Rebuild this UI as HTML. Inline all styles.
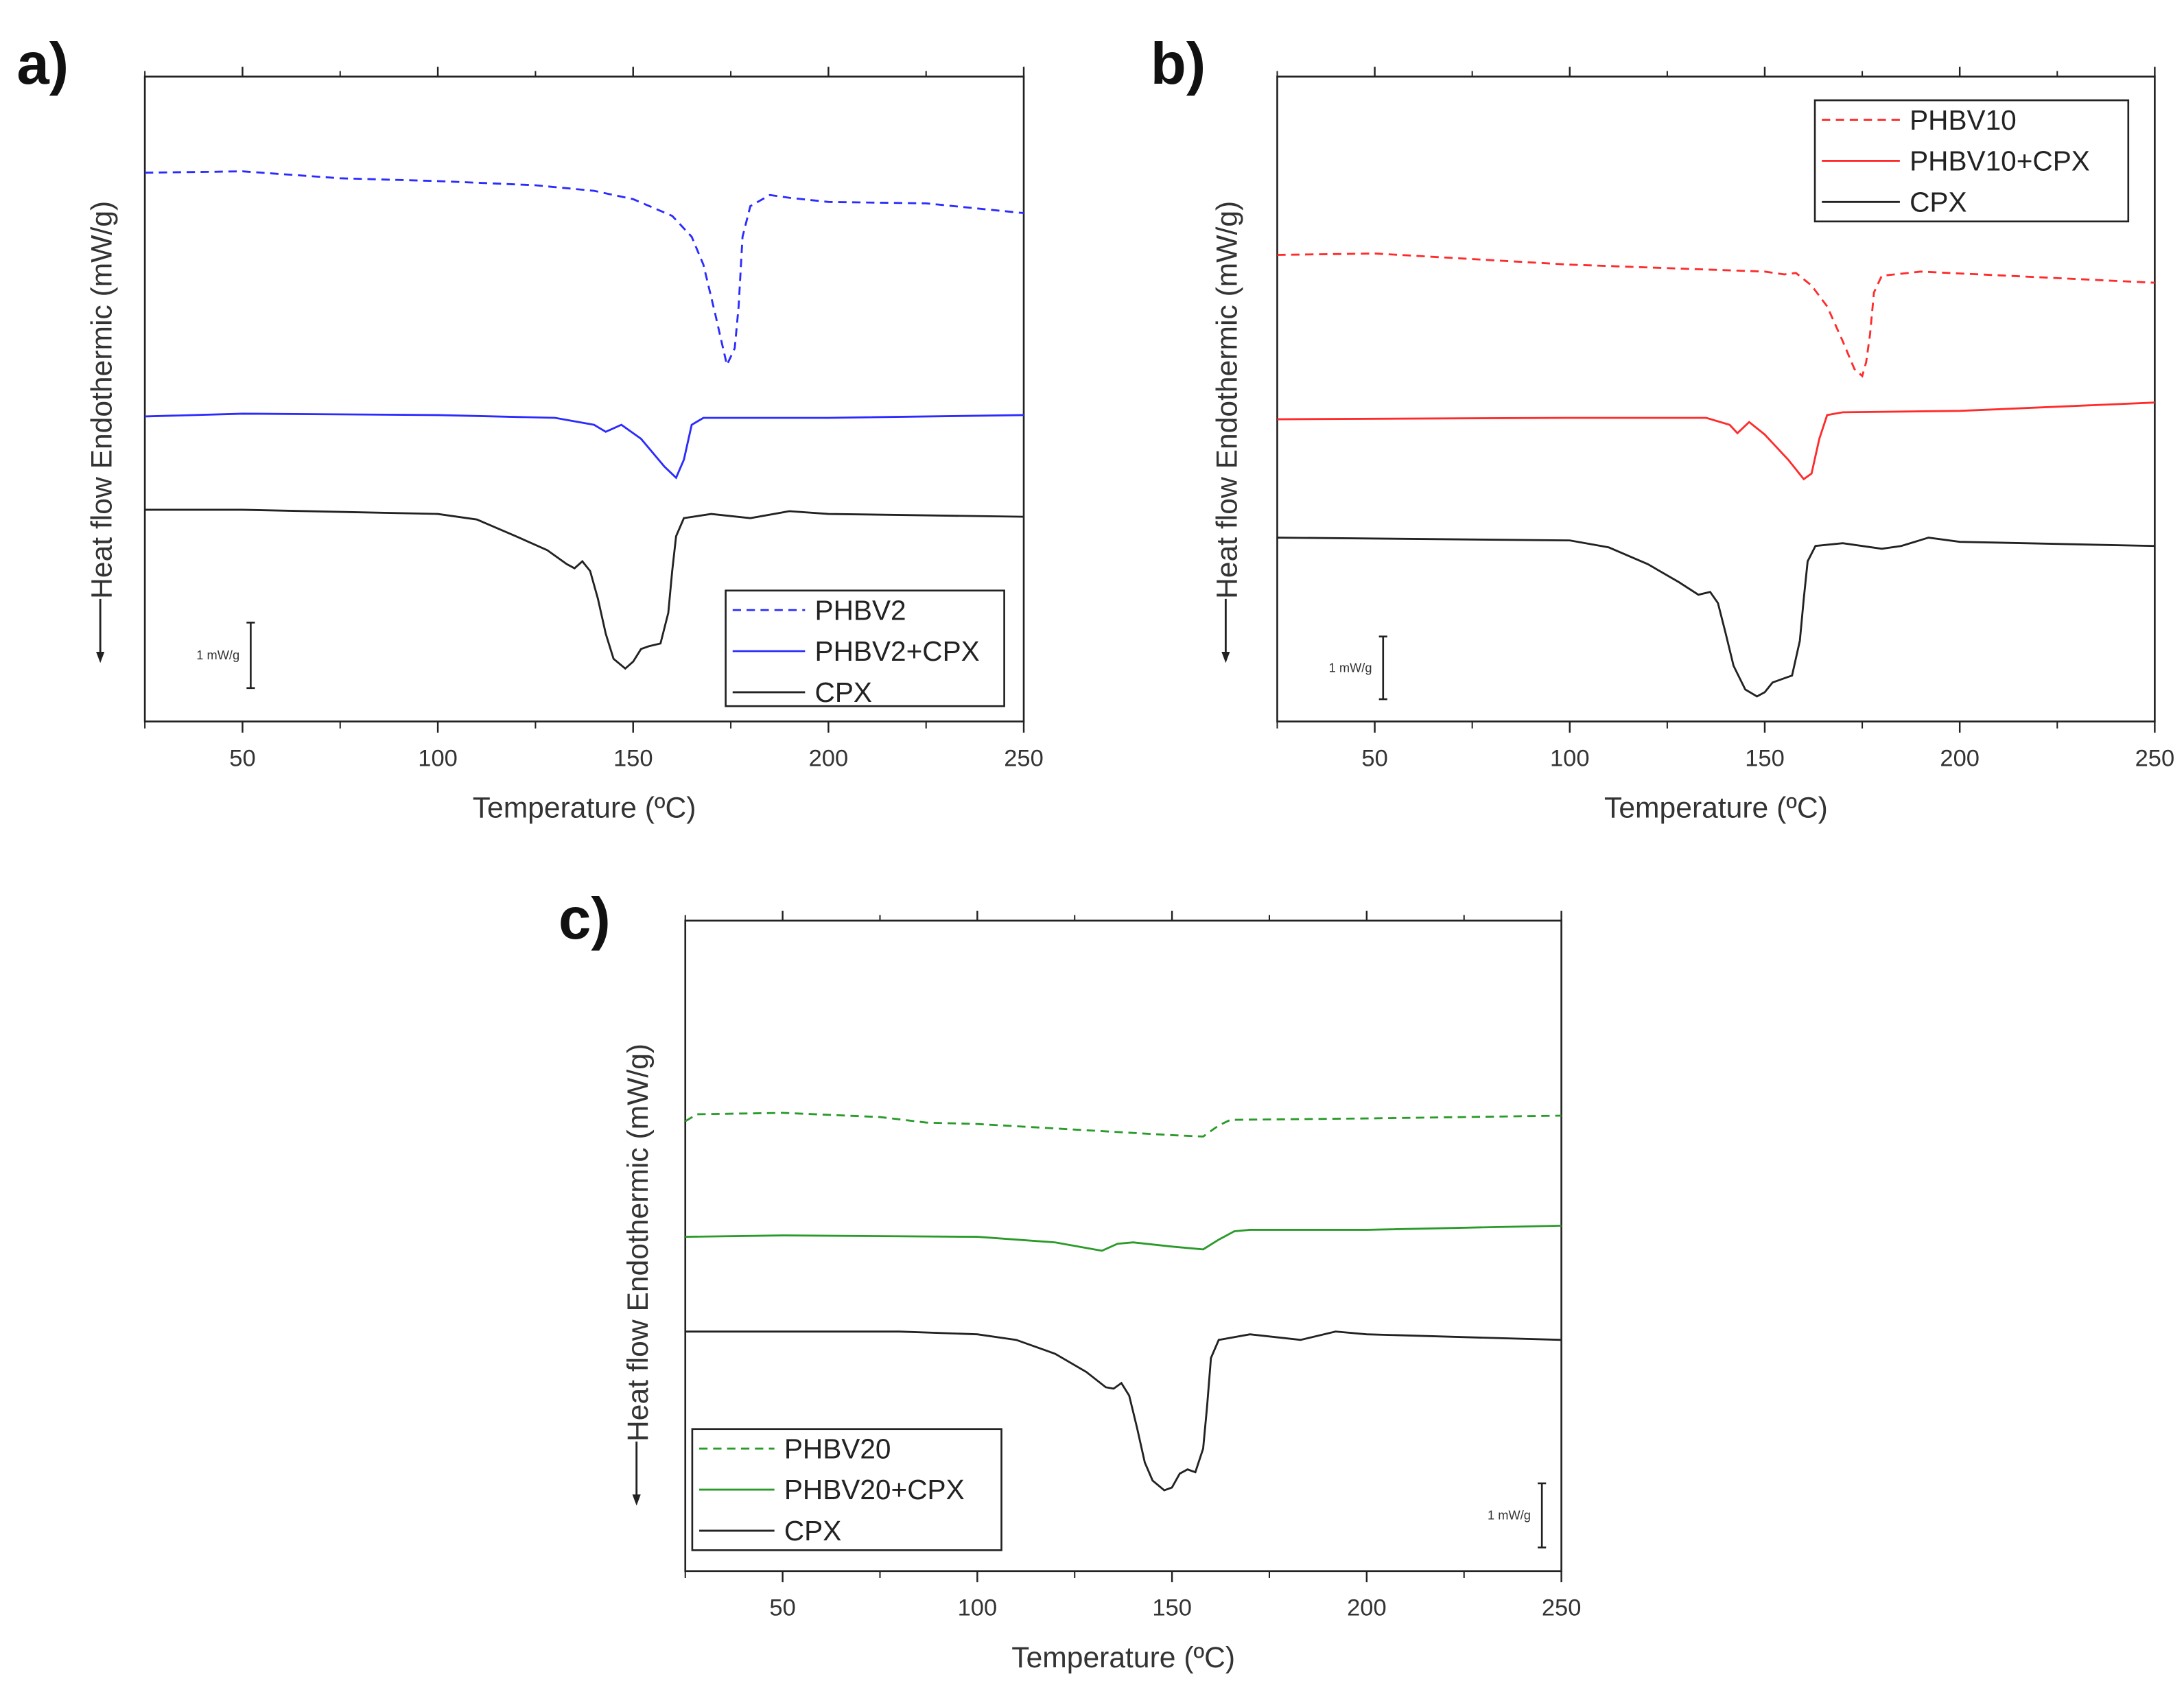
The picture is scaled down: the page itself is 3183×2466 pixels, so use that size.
<!DOCTYPE html>
<html><head><meta charset="utf-8"><style>
html,body{margin:0;padding:0;background:#fff;}
svg{display:block;}
text{font-family:"Liberation Sans",sans-serif;}
</style></head><body>
<svg id="fig" width="3183" height="2466" viewBox="0 0 1568 1214.8" preserveAspectRatio="none" xmlns="http://www.w3.org/2000/svg">
</svg>
<script>
// ---- data (temperature °C, heat flow arbitrary units) ----
const ticksX = [50,100,150,200,250];
const minorX = [25,75,125,175,225];
// Panel a
const aDashT = [25,50,75,100,125,140,150,160,165,168,171,173,174,176,177,178,180,185,190,200,225,250];
const aDashV = [394,395,390,388,385,381,375,363,348,328,293,268,256,268,298,348,370,378,376,373,372,365];
const aMixT = [25,50,100,130,140,143,147,152,158,161,163,165,168,200,250];
const aMixV = [219,221,220,218,213,208,213,203,183,175,188,213,218,218,220];
const aCpxT = [25,50,100,110,120,128,133,135,137,139,141,143,145,148,150,152,154,157,159,160,161,163,170,180,190,200,250];
const aCpxV = [152,152,149,145,133,123,113,110,115,108,88,63,45,38,43,52,54,56,78,108,133,146,149,146,151,149,147];
// Panel b
const bDashT = [25,50,100,150,155,158,162,166,170,173,175,176,177,178,180,190,250];
const bDashV = [335,336,328,323,321,322,313,298,273,253,248,258,278,308,320,323,315];
const bMixT = [25,100,135,141,143,146,150,156,160,162,164,166,170,200,250];
const bMixV = [217,218,218,213,207,215,206,188,174,178,203,220,222,223,229];
const bCpxT = [25,100,110,120,128,133,136,138,140,142,145,148,150,152,155,157,159,160,161,163,170,180,185,192,200,250];
const bCpxV = [132,130,125,113,100,91,93,85,63,40,23,18,21,28,31,33,58,88,115,126,128,124,126,132,129,126];
// Panel c
const cDashT = [25,28,50,75,87,100,125,150,158,162,165,200,250];
const cDashV = [323,328,329,326,322,321,317,313,312,320,324,325,327];
const cMixT = [25,50,100,120,130,132,136,140,150,158,162,166,170,200,250];
const cMixV = [240,241,240,236,231,230,235,236,233,231,238,244,245,245,248];
const cCpxT = [25,80,100,110,120,128,133,135,137,139,141,143,145,148,150,152,154,156,158,159,160,162,170,183,192,200,250];
const cCpxV = [172,172,170,166,156,143,132,131,135,126,103,78,65,58,60,70,73,71,88,118,153,166,170,166,172,170,166];

const NS="http://www.w3.org/2000/svg";
const svg=document.getElementById('fig');
function el(tag,attrs,parent){const e=document.createElementNS(NS,tag);for(const k in attrs)e.setAttribute(k,attrs[k]);(parent||svg).appendChild(e);return e;}

function panel(id,L,R,T,B,series,leg,bar,lbl){
  const g=el('g',{});
  
  
  const xs=t=>L+(t-25)*(R-L)/225;
  const ys=v=>B-v;
  const frame=el('rect',{x:L,y:T,width:R-L,height:B-T,fill:'none',stroke:'#222','stroke-width':1.3},g);
  
  
  ticksX.forEach(t=>{
    el('line',{x1:xs(t),x2:xs(t),y1:B,y2:B+8,stroke:'#222','stroke-width':1.2},g);
    el('line',{x1:xs(t),x2:xs(t),y1:T,y2:T-7,stroke:'#222','stroke-width':1.2},g);
    const tx=el('text',{x:xs(t),y:B+32,'font-size':17,'text-anchor':'middle',fill:'#333'},g);
    tx.textContent=t;
    
    
  });
  minorX.forEach(t=>{
    el('line',{x1:xs(t),x2:xs(t),y1:B,y2:B+5,stroke:'#222','stroke-width':1},g);
    el('line',{x1:xs(t),x2:xs(t),y1:T,y2:T-4,stroke:'#222','stroke-width':1},g);
  });
  series.forEach(s=>{
    const d=s.t.map((t,i)=>(i?'L':'M')+xs(t).toFixed(1)+','+ys(s.v[i]).toFixed(1)).join(' ');
    const p=el('path',{d:d,fill:'none',stroke:s.c,'stroke-width':1.4,'stroke-dasharray':s.dash?'6,4':'none'},g);
    
    
  });
  // legend
  const lg=el('g',{},g);
  
  
  el('rect',{x:leg.x,y:leg.y,width:leg.w,height:leg.h,fill:'#fff',stroke:'#222','stroke-width':1.3},lg);
  series.forEach((s,i)=>{
    const yy=leg.y+14+i*29.5;
    el('line',{x1:leg.x+5,x2:leg.x+5+leg.ll,y1:yy,y2:yy,stroke:s.c,'stroke-width':1.4,'stroke-dasharray':s.dash?'6,4':'none'},lg);
    const tx=el('text',{x:leg.x+leg.ll+12,y:yy+7,'font-size':20,fill:'#222'},lg);
    tx.textContent=s.label;
    
    
  });
  // scale bar
  el('line',{x1:bar.x,x2:bar.x,y1:bar.y1,y2:bar.y2,stroke:'#222','stroke-width':1.3},g);
  el('line',{x1:bar.x-3,x2:bar.x+3,y1:bar.y1,y2:bar.y1,stroke:'#222','stroke-width':1.3},g);
  el('line',{x1:bar.x-3,x2:bar.x+3,y1:bar.y2,y2:bar.y2,stroke:'#222','stroke-width':1.3},g);
  const sb=el('text',{x:bar.x-8,y:(bar.y1+bar.y2)/2+3,'font-size':9,'text-anchor':'end',fill:'#333'},g);
  sb.textContent='1 mW/g';
  
  
  // axis titles
  const xt=el('text',{x:(L+R)/2,y:B+69,'font-size':21,'text-anchor':'middle',fill:'#333'},g);
  xt.textContent='Temperature (ºC)';
  
  
  const ax=lbl.yx;
  el('line',{x1:ax,x2:ax,y1:lbl.ybot,y2:lbl.ybot+42,stroke:'#222','stroke-width':1.4},g);
  el('path',{d:`M${ax-3},${lbl.ybot+38} L${ax+3},${lbl.ybot+38} L${ax},${lbl.ybot+46} Z`,fill:'#222'},g);
  const yt=el('text',{x:0,y:0,'font-size':21,fill:'#333',transform:`translate(${ax+8},${lbl.ybot}) rotate(-90)`},g);
  yt.textContent='Heat flow Endothermic (mW/g)';
  
  
  const pl=el('text',{x:lbl.px,y:lbl.py,'font-size':42,'font-weight':'bold',fill:'#111'},g);
  pl.textContent=id+')';
  
  
}

panel('a',104,735,55,518,[
  {t:aDashT,v:aDashV,c:'#2b2bff',dash:true,label:'PHBV2',name:'series-phbv2'},
  {t:aMixT,v:aMixV,c:'#2b2bff',dash:false,label:'PHBV2+CPX',name:'series-phbv2-cpx'},
  {t:aCpxT,v:aCpxV,c:'#222',dash:false,label:'CPX',name:'series-cpx-a'}],
  {x:521,y:424,w:200,h:83,ll:52},{x:180,y1:447,y2:494},{yx:72,ybot:430,px:12,py:60});
panel('b',917,1547,55,518,[
  {t:bDashT,v:bDashV,c:'#ff2b2b',dash:true,label:'PHBV10',name:'series-phbv10'},
  {t:bMixT,v:bMixV,c:'#ff2b2b',dash:false,label:'PHBV10+CPX',name:'series-phbv10-cpx'},
  {t:bCpxT,v:bCpxV,c:'#222',dash:false,label:'CPX',name:'series-cpx-b'}],
  {x:1303,y:72,w:225,h:87,ll:56},{x:993,y1:457,y2:502},{yx:880,ybot:430,px:826,py:60});
panel('c',492,1121,661,1128,[
  {t:cDashT,v:cDashV,c:'#2a9a2a',dash:true,label:'PHBV20',name:'series-phbv20'},
  {t:cMixT,v:cMixV,c:'#2a9a2a',dash:false,label:'PHBV20+CPX',name:'series-phbv20-cpx'},
  {t:cCpxT,v:cCpxV,c:'#222',dash:false,label:'CPX',name:'series-cpx-c'}],
  {x:497,y:1026,w:222,h:87,ll:54},{x:1107,y1:1065,y2:1111},{yx:457,ybot:1035,px:401,py:674});
</script>
</body></html>
